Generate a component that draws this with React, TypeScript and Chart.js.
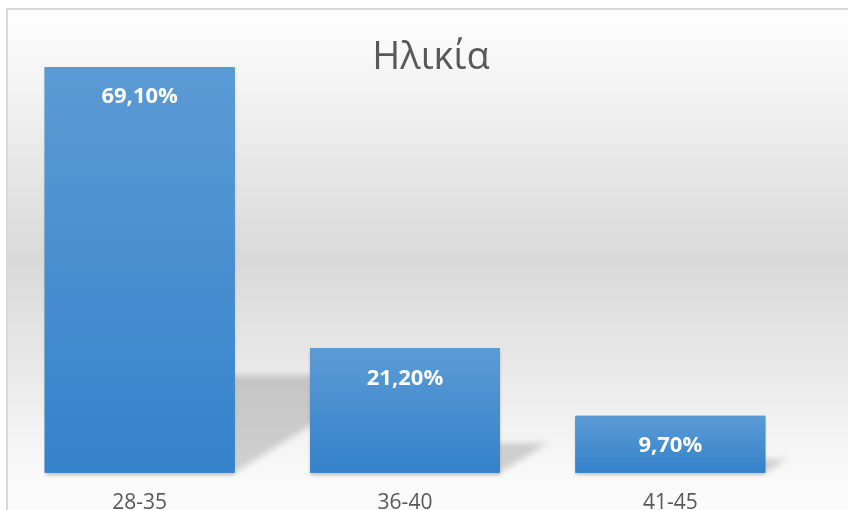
import React, { useEffect, useRef } from "react";
import { Chart, registerables } from "chart.js";

Chart.register(...registerables);

const categories: string[] = ["28-35", "36-40", "41-45"];
const values: number[] = [69.1, 21.2, 9.7];
const chartTitle = "Ηλικία";
const yMin = 0;
const yMax = 80;

const formatPct = (v: number) => v.toFixed(2).replace(".", ",") + "%";

const backgroundPlugin = {
  id: "bgFrame",
  beforeDraw(chart: any) {
    const { ctx, width, height } = chart;
    ctx.save();
    ctx.fillStyle = "#ffffff";
    ctx.fillRect(0, 0, width, height);
    const g = ctx.createLinearGradient(0, 9, 0, 490);
    g.addColorStop(0, "#ffffff");
    g.addColorStop(0.52, "#d9d9d9");
    g.addColorStop(1, "#fbfbfb");
    ctx.fillStyle = g;
    ctx.fillRect(7, 9, width, height);
    ctx.strokeStyle = "#d9d9d9";
    ctx.lineWidth = 2;
    ctx.beginPath();
    ctx.moveTo(7, height);
    ctx.lineTo(7, 9);
    ctx.lineTo(width, 9);
    ctx.stroke();
    ctx.restore();
  },
};

const shadowPlugin = {
  id: "barShadows",
  beforeDatasetsDraw(chart: any) {
    const { ctx } = chart;
    const meta = chart.getDatasetMeta(0);
    ctx.save();
    meta.data.forEach((el: any) => {
      const p = el.getProps(["x", "y", "base", "width"], true);
      const L = p.x - p.width / 2;
      const R = p.x + p.width / 2;
      const B = p.base;
      const h = B - p.y;
      const sh = h * 0.24;
      const dx = sh * 1.6;
      ctx.save();
      ctx.filter = "blur(3px)";
      ctx.fillStyle = "rgba(0,0,0,0.16)";
      ctx.beginPath();
      ctx.moveTo(L, B);
      ctx.lineTo(R, B);
      ctx.lineTo(R + dx, B - sh);
      ctx.lineTo(L + dx, B - sh);
      ctx.closePath();
      ctx.fill();
      ctx.restore();
      ctx.save();
      ctx.shadowColor = "rgba(0,0,0,0.18)";
      ctx.shadowBlur = 3;
      ctx.shadowOffsetY = 2;
      ctx.fillStyle = "#3482cb";
      ctx.fillRect(L, p.y, R - L, h);
      ctx.restore();
    });
    ctx.restore();
  },
};

const labelPlugin = {
  id: "barLabels",
  afterDatasetsDraw(chart: any) {
    const { ctx } = chart;
    const meta = chart.getDatasetMeta(0);
    ctx.save();
    ctx.fillStyle = "#ffffff";
    ctx.font = "bold 22px 'Open Sans'";
    ctx.textAlign = "center";
    ctx.textBaseline = "middle";
    meta.data.forEach((el: any, i: number) => {
      const p = el.getProps(["x", "y"], true);
      ctx.fillText(formatPct(values[i]), p.x, p.y + 30);
    });
    ctx.restore();
  },
};

const titlePlugin = {
  id: "customTitle",
  afterDraw(chart: any) {
    const { ctx } = chart;
    ctx.save();
    ctx.fillStyle = "#595959";
    ctx.font = "38px 'Open Sans'";
    ctx.textAlign = "center";
    ctx.textBaseline = "middle";
    ctx.fillText(chartTitle, 431, 58);
    ctx.restore();
  },
};

export default function App() {
  const ref = useRef<HTMLCanvasElement | null>(null);
  useEffect(() => {
    if (!ref.current) return;
    const chart = new Chart(ref.current, {
      type: "bar",
      data: {
        labels: categories,
        datasets: [
          {
            data: values,
            categoryPercentage: 1,
            barPercentage: 0.716,
            borderWidth: 0,
            backgroundColor: (c: any) => {
              const ch = c.chart;
              const ys = ch.scales && ch.scales.y;
              if (!ys || c.raw === undefined) return "#4a90d0";
              const top = ys.getPixelForValue(c.raw);
              const bot = ys.getPixelForValue(0);
              if (!isFinite(top) || !isFinite(bot) || top === bot) return "#4a90d0";
              const g = ch.ctx.createLinearGradient(0, top, 0, bot);
              g.addColorStop(0, "#5b9bd5");
              g.addColorStop(1, "#3482cb");
              return g;
            },
          },
        ],
      },
      options: {
        responsive: false,
        animation: false,
        layout: { padding: { left: 7, right: 45, top: 3, bottom: 11 } },
        plugins: {
          legend: { display: false },
          title: { display: false },
          tooltip: { enabled: false },
        },
        scales: {
          x: {
            grid: { display: false, drawTicks: false },
            border: { display: false },
            ticks: {
              padding: 18,
              color: "#595959",
              font: { family: "'Open Sans'", size: 21 },
            },
          },
          y: {
            display: false,
            min: yMin,
            max: yMax,
          },
        },
      },
      plugins: [backgroundPlugin, shadowPlugin, labelPlugin, titlePlugin],
    });
    return () => chart.destroy();
  }, []);
  return (
    <canvas
      ref={ref}
      width={848}
      height={545}
      style={{ position: "fixed", left: 0, top: 0, width: "848px", height: "545px" }}
    />
  );
}
